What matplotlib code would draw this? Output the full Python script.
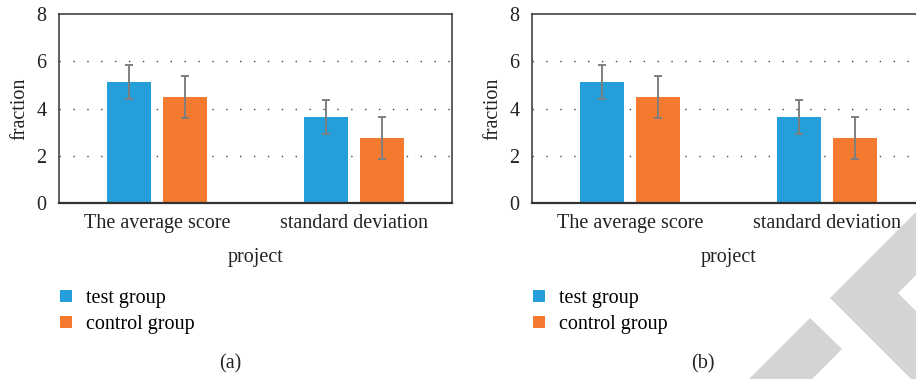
import matplotlib.pyplot as plt
from matplotlib.patches import Polygon
import numpy as np

plt.rcParams['font.family'] = ['Liberation Serif', 'DejaVu Serif']

# data (both panels show the same values)
categories = ['The average score', 'standard deviation']
series = ['test group', 'control group']
test_vals = [5.12, 3.64]
test_err = [0.73, 0.73]
control_vals = [4.49, 2.75]
control_err = [0.88, 0.88]
panel_tags = ['(a)', '(b)']

colors = ['#249fda', '#f47a30']
W, H = 916, 379
FS = 14.5

fig = plt.figure(figsize=(W / 100, H / 100), dpi=100)


def px(x, y):
    return x / W, 1 - y / H


x = np.arange(len(categories))
bw = 0.225
off = 0.143

for i, left in enumerate([59, 532]):
    ax = fig.add_axes([left / W, 1 - 203 / H, 393 / W, 189 / H])
    for vals, errs, sign, c, name in [(test_vals, test_err, -1, colors[0], series[0]),
                                      (control_vals, control_err, 1, colors[1], series[1])]:
        ax.bar(x + sign * off, vals, bw, color=c, label=name, zorder=2)
        ax.errorbar(x + sign * off, vals, yerr=errs, fmt='none', ecolor='#7f7f7f',
                    elinewidth=1.4, capsize=3, capthick=1.4, zorder=3)
    ax.set_xlim(-0.5, 1.5)
    ax.set_ylim(0, 8)
    ax.set_yticks([0, 2, 4, 6, 8])
    ax.set_xticks(x)
    ax.set_xticklabels(categories)
    ax.tick_params(length=0, labelsize=FS, colors='#222222', pad=8)
    ax.tick_params(axis='y', pad=9)
    for y in [2, 4, 6]:
        ax.axhline(y, color='#444444', lw=1, ls=(0, (1, 9)), zorder=1)
    for s in ax.spines.values():
        s.set_color('#333333')
        s.set_linewidth(1.1)
    ax.spines['bottom'].set_linewidth(1.6)
    ax.set_ylabel('fraction', fontsize=FS, color='#222222', labelpad=5)
    ax.set_xlabel('project', fontsize=FS, color='#222222', labelpad=11)
    ax.legend(loc='upper left', bbox_to_anchor=px(left + 1, 289), bbox_transform=fig.transFigure,
              frameon=False, fontsize=FS, handlelength=0.6, handleheight=0.6,
              handletextpad=0.7, labelspacing=0.35, borderaxespad=0, borderpad=0)
    fig.text(*px(left + 171, 364), panel_tags[i], ha='center', va='center',
             fontsize=FS, color='#222222')

# grey watermark in the lower right corner
grey = '#d4d4d4'
chevron = [(916, 212), (830, 298), (916, 384), (916, 311), (898, 293), (916, 275)]
piece = [(810, 318), (842, 349), (812, 379), (749, 379)]
for pts in [chevron, piece]:
    fig.patches.append(Polygon([px(*p) for p in pts], closed=True, transform=fig.transFigure,
                               facecolor=grey, edgecolor='none', zorder=0))

fig.savefig('out.png', dpi=100)
